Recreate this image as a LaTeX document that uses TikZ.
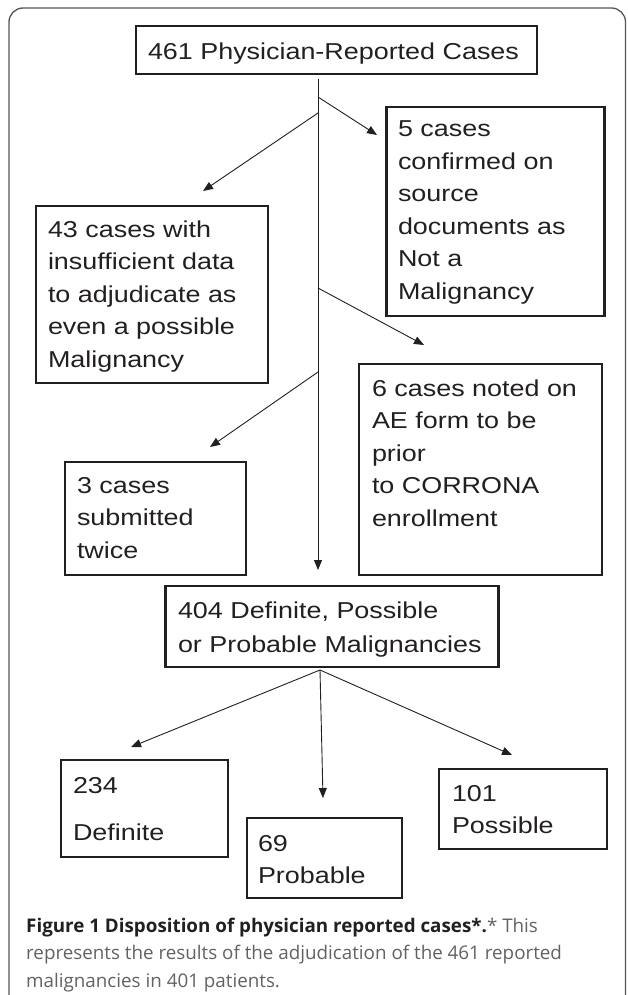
\documentclass[tikz,border=0pt]{standalone}
\usepackage{fontspec}
\setmainfont{Liberation Sans}
\newfontfamily\boxfont{Liberation Sans}[FakeStretch=1.17]
\newfontfamily\capfont{Open Sans}
\usetikzlibrary{arrows.meta}
\definecolor{ink}{HTML}{231F20}
\definecolor{capgray}{HTML}{626264}
\definecolor{framegray}{HTML}{555555}
\tikzset{
  boxst/.style={draw=ink, line width=2.8pt, rectangle, inner sep=0pt, outer sep=0pt, anchor=north west},
  txt/.style={anchor=base west, inner sep=0pt, outer sep=0pt, text=ink, font=\boxfont\fontsize{23}{32.5}\selectfont},
  arr/.style={draw=ink, line width=0.9pt, -{Triangle[length=10pt,width=8pt]}},
  framest/.style={draw=framegray, line width=1.3pt, rounded corners=14pt}
}
\newcommand{\ml}[1]{\begin{tabular}[t]{@{}l@{}}#1\end{tabular}}
\begin{document}
\begin{tikzpicture}[x=1pt,y=-1pt]
\useasboundingbox (0,0) rectangle (627,995);
% outer frame
\draw[framest] (9,1000) -- (9,8) -- (625.5,8) -- (625.5,1000);

% boxes
\node[boxst, minimum width=401pt, minimum height=48pt] (b461) at (136,26) {};
\node[boxst, minimum width=218pt, minimum height=209pt] (b5) at (386.5,107) {};
\node[boxst, minimum width=232pt, minimum height=177pt] (b43) at (36,206) {};
\node[boxst, minimum width=243pt, minimum height=211pt] (b6) at (359,364) {};
\node[boxst, minimum width=181pt, minimum height=113pt] (b3) at (65,462) {};
\node[boxst, minimum width=333pt, minimum height=81pt] (b404) at (165.5,586) {};
\node[boxst, minimum width=167pt, minimum height=97pt] (b234) at (61,760) {};
\node[boxst, minimum width=155pt, minimum height=80pt] (b69) at (247,818) {};
\node[boxst, minimum width=168pt, minimum height=80pt] (b101) at (439,769) {};

% texts
\node[txt] (t461) at (148,60) {461 Physician-Reported Cases};
\node[txt] (t5) at (398,137) {\ml{5 cases\\confirmed on\\source\\documents as\\Not a\\Malignancy}};
\node[txt] (t43) at (48,237) {\ml{43 cases with\\insufficient data\\to adjudicate as\\even a possible\\Malignancy}};
\node[txt] (t6) at (372,396) {\ml{6 cases noted on\\AE form to be\\prior\\to CORRONA\\enrollment}};
\node[txt] (t3) at (77,493) {\ml{3 cases\\submitted\\twice}};
\node[txt] (t404) at (178,618) {\ml{404 Definite, Possible\\[1.5pt]or Probable Malignancies}};
\node[txt] (t234) at (73,793) {\ml{234\\[15pt]Definite}};
\node[txt] (t69) at (258,851) {\ml{69\\Probable}};
\node[txt] (t101) at (452,801) {\ml{101\\Possible}};

% trunk coordinates and arrow ends
\coordinate (k0) at (318,79);
\coordinate (k1) at (318,97);
\coordinate (k2) at (318,113);
\coordinate (k3) at (318,288);
\coordinate (k4) at (318,372);
\coordinate (k5) at (318,570);
\coordinate (e5) at (377,135);
\coordinate (e43) at (203,191);
\coordinate (e6) at (424,345);
\coordinate (e3) at (210,447);
\coordinate (j) at (320,670);
\coordinate (e234) at (131,747);
\coordinate (e69) at (323,798);
\coordinate (e101) at (512,755);

\draw[arr] (k0) -- (k5);
\draw[arr] (k1) -- (e5);
\draw[arr] (k2) -- (e43);
\draw[arr] (k3) -- (e6);
\draw[arr] (k4) -- (e3);
\draw[arr] (j) -- (e234);
\draw[arr] (j) -- (e69);
\draw[arr] (j) -- (e101);

% caption
\node[anchor=base west, inner sep=0pt, text=capgray, font=\capfont\fontsize{18.8}{27.5}\selectfont] (cap) at (26,932)
 {\ml{\textcolor{ink}{\textbf{Figure 1 Disposition of physician reported cases*.}}* This\\represents the results of the adjudication of the 461 reported\\malignancies in 401 patients.}};
\end{tikzpicture}
\end{document}
